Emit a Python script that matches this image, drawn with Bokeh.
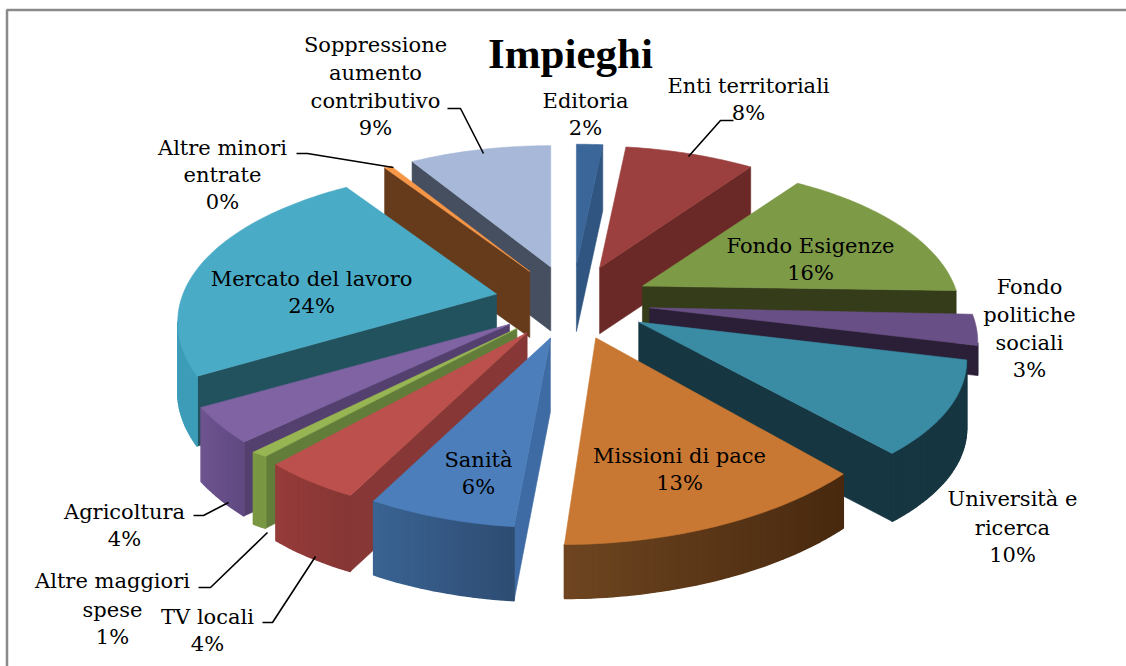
from bokeh.plotting import figure
from bokeh.embed import file_html
from bokeh.resources import INLINE
from bokeh.models import Range1d
from bokeh.core.properties import value
import math

TITLE = "Impieghi"
names = ["Editoria", "Enti territoriali", "Fondo Esigenze", "Fondo politiche sociali",
         "Università e ricerca", "Missioni di pace", "Sanità", "TV locali",
         "Altre maggiori spese", "Agricoltura", "Mercato del lavoro",
         "Altre minori entrate", "Soppressione aumento contributivo"]
shares = [1.6, 8.1, 16.0, 3.2, 10.0, 12.6, 6.2, 4.4, 1.1, 3.6, 23.8, 0.45, 9.0]

top_col = ["#3A6699", "#9B403E", "#7D9A47", "#684F85", "#3A8BA4", "#C97833", "#4B7EBA",
           "#BC504D", "#97B552", "#7F63A2", "#4AABC6", "#F79646", "#A7B8D8"]
radial_col = ["#2F5580", "#6A2827", "#353C1A", "#2A1F36", "#163641", "#4A2A10", "#3E6BA3",
              "#873735", "#627D3A", "#54406E", "#23525F", "#653B1B", "#454F60"]
outer_left = ["#2F5580", "#6A2827", "#353C1A", "#2A1F36", "#163641", "#6E4520", "#3A6393",
              "#963C3A", "#7A9843", "#6E5490", "#3D9DB8", "#653B1B", "#454F60"]
outer_right = ["#2F5580", "#6A2827", "#353C1A", "#2A1F36", "#163641", "#48290F", "#2E4C72",
               "#853634", "#7A9843", "#5F4880", "#3D9DB8", "#653B1B", "#454F60"]
depths = [66, 66, 66, 30, 68, 54, 74, 76, 72, 74, 70, 66, 64]
# rim corrections: shift reached at the end of each slice's arc, and mid-arc sideways bulge
end_stretch = [(0, 0), (-4, 2), (-9, -2), (0, 0), (6, -5), (5, 18), (0, 0), (0, 4),
               (2, 6), (-9, 1), (-5, -3), (0, 0), (0, 0)]
mid_bulge = [0, 0, 0, 0, 0, 0, 0, 0, 0, 0, -5, 0, 0]
draw_order = [12, 11, 0, 1, 2, 3, 4, 10, 9, 8, 7, 6, 5]

# per-line chart label layout: (text lines, centre x, y of each line)
label_layout = [
    (["Editoria"], 585, [100]),
    (["Enti territoriali"], 748, [85]),
    (["Fondo Esigenze"], 810, [245]),
    (["Fondo", "politiche", "sociali"], 1029, [286, 314, 342]),
    (["Università e", "ricerca"], 1012, [498, 527]),
    (["Missioni di pace"], 679, [455]),
    (["Sanità"], 478, [459]),
    (["TV locali"], 207, [616]),
    (["Altre maggiori", "spese"], 112, [580, 609]),
    (["Agricoltura"], 124, [511]),
    (["Mercato del lavoro"], 311, [278]),
    (["Altre minori", "entrate"], 222, [147, 174]),
    (["Soppressione", "aumento", "contributivo"], 375, [44, 72, 100]),
]
leaders = [
    ([447, 460, 483], [108, 108, 153]),
    ([296, 307, 393], [153, 153, 167]),
    ([733, 720, 688], [120, 120, 156]),
    ([262, 272, 315], [622, 622, 556]),
    ([198, 210, 267], [587, 587, 532]),
    ([193, 203, 228], [515, 515, 502]),
]

# projection of the exploded pie
CX, CY = 572, 302
EX, EY = 78, 37
RX_RIGHT, RX_LEFT, RY = 320, 307, 148
PERSP = 0.22
FONT = "DejaVu Serif"
LABEL_PX = "21px"


def rim(theta):
    t = math.radians(theta)
    f = 1 / (1 + PERSP * math.cos(t))
    rx = RX_RIGHT if math.sin(t) >= 0 else RX_LEFT
    return rx * math.sin(t) * f, -RY * math.cos(t) * f


def hexrgb(c):
    return [int(c[i:i + 2], 16) for i in (1, 3, 5)]


def mix(a, b, u):
    u = max(0, min(1, u))
    ca, cb = hexrgb(a), hexrgb(b)
    return "#%02x%02x%02x" % tuple(round(x + (y - x) * u) for x, y in zip(ca, cb))


def below_interior(a, b, inner):
    """True when the wall hanging under edge a-b is visible (interior lies above it)."""
    if abs(b[0] - a[0]) < 1e-6:
        return False
    yl = a[1] + (b[1] - a[1]) * (inner[0] - a[0]) / (b[0] - a[0])
    return inner[1] < yl


p = figure(width=1126, height=666, output_backend="svg", toolbar_location=None,
           x_range=Range1d(0, 1126), y_range=Range1d(666, 0),
           min_border=0, outline_line_color=None, background_fill_color="white")
p.axis.visible = False
p.grid.visible = False

p.line([6.5, 6.5, 1126], [666, 9.5, 9.5], line_color="#8a8a8a", line_width=2.5)

total = sum(shares)
starts, acc = [], 0.0
for s in shares:
    starts.append(acc / total * 360)
    acc += s

for i in draw_order:
    a0 = starts[i]
    a1 = a0 + shares[i] / total * 360
    mid = math.radians((a0 + a1) / 2)
    ax = CX + EX * math.sin(mid)
    ay = CY - EY * math.cos(mid)
    apex = (ax, ay)
    n = max(3, int((a1 - a0) / 1.0))
    arc = []
    sx, sy = end_stretch[i]
    for k in range(n + 1):
        u = k / n
        dx, dy = rim(a0 + (a1 - a0) * u)
        arc.append((ax + dx + sx * u + mid_bulge[i] * math.sin(math.pi * u), ay + dy + sy * u))
    d = depths[i]
    mid_arc = arc[n // 2]

    for edge in (arc[0], arc[-1]):
        if below_interior(apex, edge, mid_arc):
            p.patch([apex[0], edge[0], edge[0], apex[0]],
                    [apex[1], edge[1], edge[1] + d, apex[1] + d],
                    fill_color=radial_col[i], line_color=radial_col[i], line_width=0.6)

    xs_all = [q[0] for q in arc]
    xmin, xmax = min(xs_all), max(xs_all)
    for k in range(n):
        q0, q1 = arc[k], arc[k + 1]
        if below_interior(q0, q1, apex):
            u = ((q0[0] + q1[0]) / 2 - xmin) / max(1, xmax - xmin)
            c = mix(outer_left[i], outer_right[i], u)
            p.patch([q0[0], q1[0], q1[0], q0[0]],
                    [q0[1], q1[1], q1[1] + d, q0[1] + d],
                    fill_color=c, line_color=c, line_width=1.5)

    p.patch([apex[0]] + [q[0] for q in arc], [apex[1]] + [q[1] for q in arc],
            fill_color=top_col[i], line_color=top_col[i], line_width=0.6)

for xs, ys in leaders:
    p.line(xs, ys, line_color="black", line_width=1.6)

for i, (lines, x, ys) in enumerate(label_layout):
    pct = "%d%%" % round(shares[i])
    step = 27.5
    all_lines = lines + [pct]
    all_y = ys + [ys[-1] + step]
    p.text([x] * len(all_lines), all_y, text=all_lines, text_align="center",
           text_baseline="middle", text_font=value(FONT), text_font_size=LABEL_PX,
           text_color="black")

p.text([570], [53], text=[TITLE], text_align="center", text_baseline="middle",
       text_font=value("Liberation Serif"), text_font_size="43px", text_font_style="bold",
       text_color="black")

open("out.html", "w").write(file_html(p, INLINE))
